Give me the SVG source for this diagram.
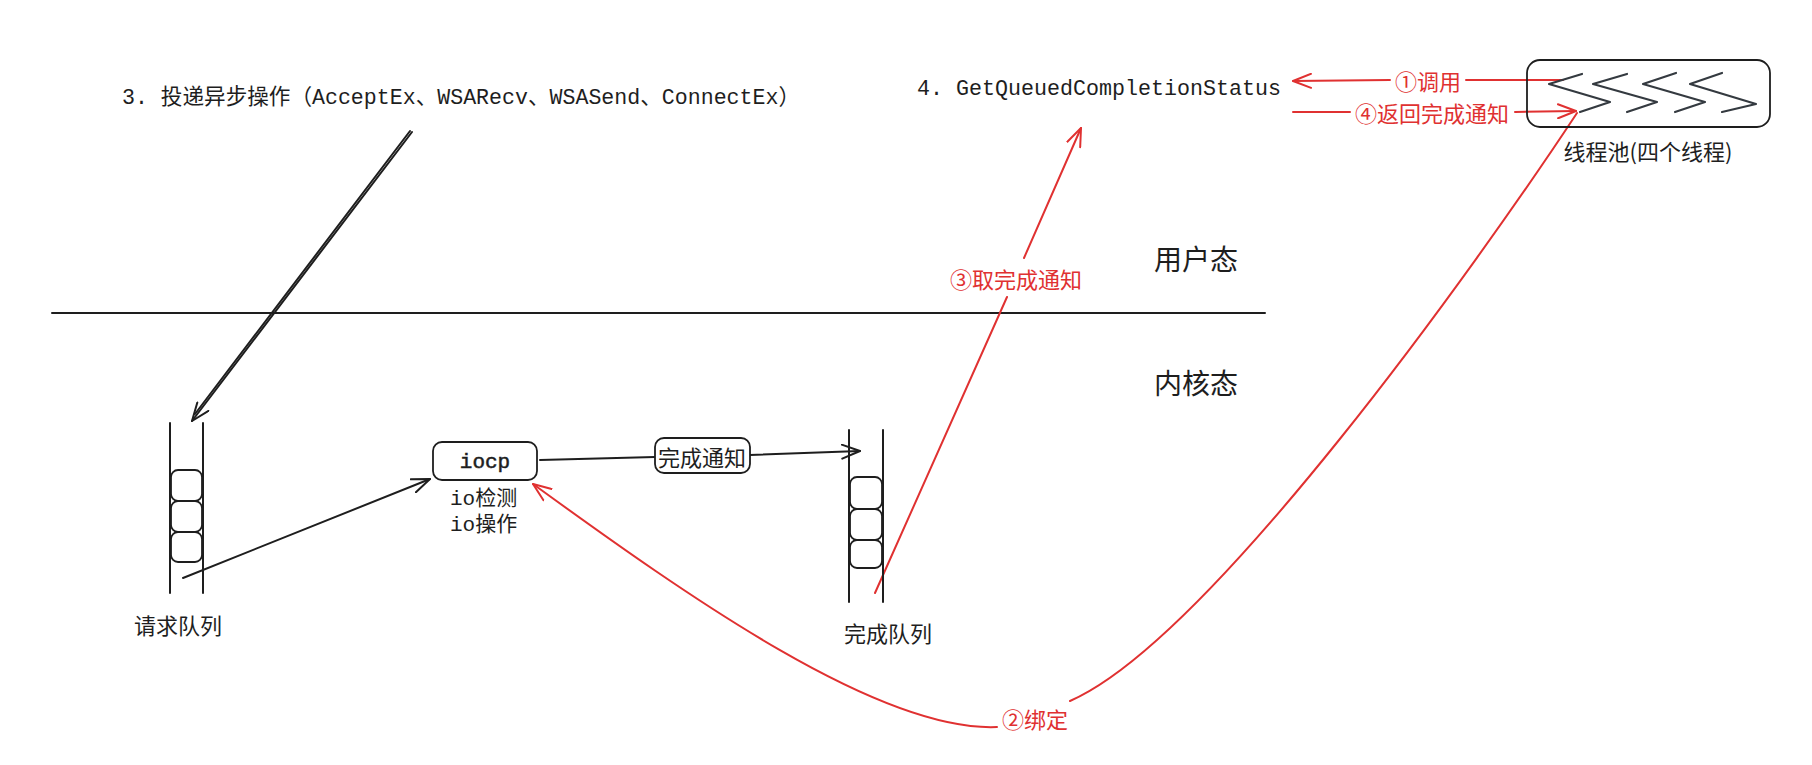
<svg xmlns="http://www.w3.org/2000/svg" width="1812" height="765" viewBox="0 0 1812 765">
<style>
.t{font-family:"Noto Sans CJK SC","Noto Sans",sans-serif;fill:#1e1e1e;text-anchor:middle;dominant-baseline:central}
.m{font-family:"Liberation Mono","Noto Sans CJK SC",monospace;fill:#1e1e1e;dominant-baseline:central}
.r{fill:#e03131}
.ln{fill:none;stroke:#1e1e1e;stroke-width:2;stroke-linecap:round;stroke-linejoin:round}
.rl{fill:none;stroke:#e03131;stroke-width:2;stroke-linecap:round;stroke-linejoin:round}
.box{fill:#fff;stroke:#1e1e1e;stroke-width:1.8}
.zz{fill:none;stroke:#343a40;stroke-width:2.2;stroke-linecap:round;stroke-linejoin:round}
</style>
<defs>
<marker id="ab" viewBox="0 0 20 16" refX="19" refY="8" markerWidth="20" markerHeight="16" markerUnits="userSpaceOnUse" orient="auto">
<path d="M1,1 L19,8 L1,15" fill="none" stroke="#1e1e1e" stroke-width="2" stroke-linecap="round" stroke-linejoin="round"/>
</marker>
<marker id="ar" viewBox="0 0 20 16" refX="19" refY="8" markerWidth="20" markerHeight="16" markerUnits="userSpaceOnUse" orient="auto">
<path d="M1,1 L19,8 L1,15" fill="none" stroke="#e03131" stroke-width="2" stroke-linecap="round" stroke-linejoin="round"/>
</marker>
</defs>
<rect width="1812" height="765" fill="#fff"/>

<g id="divider">
<line x1="52" y1="313" x2="1265" y2="313" class="ln"/>
<text class="t" x="1196" y="258" font-size="28">用户态</text>
<text class="t" x="1196" y="382" font-size="28">内核态</text>
</g>

<g id="connectors">
<line x1="412" y1="132" x2="192" y2="421" class="ln" stroke-width="1.6" marker-end="url(#ab)"/>
<line x1="410" y1="131" x2="195" y2="414" class="ln" stroke-width="0.8"/>
<line x1="183" y1="578" x2="430" y2="479" class="ln" marker-end="url(#ab)"/>
<polyline points="540,460 655,457" class="ln"/>
<line x1="750" y1="455" x2="860" y2="451" class="ln" marker-end="url(#ab)"/>
<line x1="875" y1="593" x2="1007" y2="297" class="rl"/>
<line x1="1024" y1="258" x2="1081" y2="128" class="rl" marker-end="url(#ar)"/>
<line x1="1563" y1="80" x2="1466" y2="80" class="rl"/>
<line x1="1390" y1="80" x2="1293" y2="81" class="rl" marker-end="url(#ar)"/>
<line x1="1293" y1="112" x2="1350" y2="112" class="rl"/>
<line x1="1515" y1="112" x2="1576" y2="111" class="rl" marker-end="url(#ar)"/>
<path d="M1577,113 C1480,260 1210,640 1070,701" class="rl"/>
<path d="M997,727 C880,732 690,598 533,484" class="rl" marker-end="url(#ar)"/>
<g id="conn-label-fin">
<rect x="655" y="438" width="95" height="35" rx="9" class="box"/>
<text class="t" x="702" y="456" font-size="22">完成通知</text>
</g>
<text class="t r" x="1016" y="278" font-size="22">③取完成通知</text>
<text class="t r" x="1428" y="80" font-size="22">①调用</text>
<text class="t r" x="1432" y="112" font-size="22">④返回完成通知</text>
<text class="t r" x="1035" y="718" font-size="22">②绑定</text>
</g>

<g id="post-text">
<text class="m" x="122" y="98" font-size="22" textLength="678" lengthAdjust="spacingAndGlyphs">3. 投递异步操作（AcceptEx、WSARecv、WSASend、ConnectEx）</text>
</g>

<g id="gqcs">
<text class="m" x="917" y="89" font-size="22" textLength="364" lengthAdjust="spacingAndGlyphs">4. GetQueuedCompletionStatus</text>
</g>

<g id="request-queue">
<line x1="170" y1="423" x2="170" y2="593" class="ln" stroke-width="1.5"/>
<line x1="203" y1="423" x2="203" y2="593" class="ln" stroke-width="1.5"/>
<rect x="171" y="470" width="31" height="31" rx="7" class="box"/>
<rect x="171" y="501" width="31" height="31" rx="7" class="box"/>
<rect x="171" y="532" width="31" height="30" rx="7" class="box"/>
<text class="t" x="178" y="624" font-size="22">请求队列</text>
</g>

<g id="iocp">
<rect x="433" y="442" width="104" height="38" rx="9" class="box"/>
<text class="m" x="485" y="462" font-size="21" stroke="#1e1e1e" stroke-width="0.5" text-anchor="middle">iocp</text>
<text class="m" x="450" y="499" font-size="21">io检测</text>
<text class="m" x="450" y="525" font-size="21">io操作</text>
</g>

<g id="complete-queue">
<line x1="849" y1="430" x2="849" y2="602" class="ln" stroke-width="1.5"/>
<line x1="883" y1="430" x2="883" y2="602" class="ln" stroke-width="1.5"/>
<rect x="850" y="477" width="32" height="32" rx="7" class="box"/>
<rect x="850" y="509" width="32" height="31" rx="7" class="box"/>
<rect x="850" y="540" width="32" height="28" rx="7" class="box"/>
<text class="t" x="888" y="632" font-size="22">完成队列</text>
</g>

<g id="thread-pool">
<rect x="1527" y="60" width="243" height="67" rx="13" fill="none" stroke="#1e1e1e" stroke-width="1.8"/>
<polyline points="1582,74 1549,84 1610,102 1580,112" class="zz"/>
<polyline points="1627,74 1593,84 1657,102 1627,112" class="zz"/>
<polyline points="1676,73 1643,84 1705,102 1675,112" class="zz"/>
<polyline points="1722,73 1690,84 1756,104 1722,112" class="zz" stroke="#6c6f73"/>
<text class="t" x="1648" y="150" font-size="22">线程池(四个线程)</text>
</g>
</svg>
